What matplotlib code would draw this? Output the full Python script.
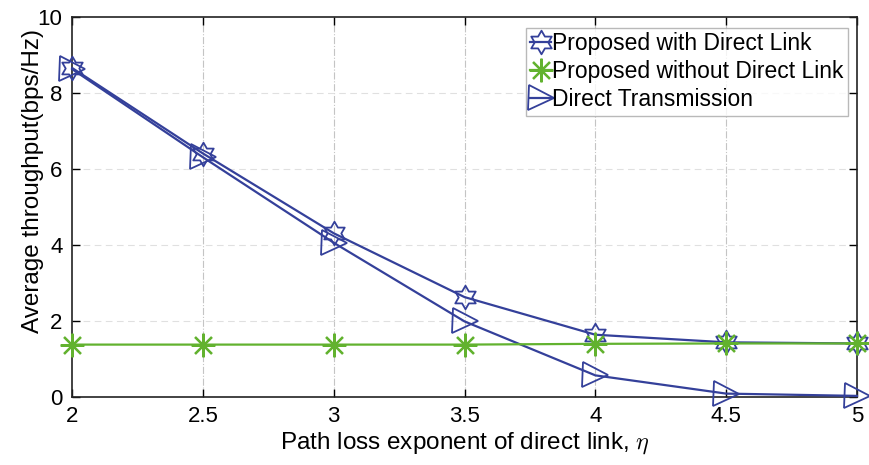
import numpy as np
import matplotlib
matplotlib.use("Agg")
import matplotlib.pyplot as plt
from matplotlib.path import Path

plt.rcParams['font.family'] = ['Liberation Sans', 'DejaVu Sans']
plt.rcParams['mathtext.fontset'] = 'cm'

eta = [2, 2.5, 3, 3.5, 4, 4.5, 5]
with_direct = [8.65, 6.40, 4.30, 2.62, 1.63, 1.43, 1.40]
without_direct = [1.37, 1.37, 1.37, 1.37, 1.39, 1.40, 1.40]
direct_tx = [8.62, 6.30, 4.05, 1.98, 0.56, 0.08, 0.02]

xticks = [2, 2.5, 3, 3.5, 4, 4.5, 5]
xticklabels = ['2', '2.5', '3', '3.5', '4', '4.5', '5']
yticks = [0, 2, 4, 6, 8, 10]

# six-pointed star (hexagram) marker
ang = np.deg2rad(90 + 30 * np.arange(12))
rad = np.where(np.arange(12) % 2 == 0, 1.0, 1 / np.sqrt(3))
verts = np.column_stack([rad * np.cos(ang), rad * np.sin(ang)])
verts = np.vstack([verts, verts[:1]])
hexagram = Path(verts, closed=True)

blue = '#34409A'
green = '#62B22F'

fig = plt.figure(figsize=(8.7, 4.65), dpi=100)
ax = fig.add_axes([0.083, 0.147, 0.902, 0.817])

ax.plot(eta, with_direct, color=blue, lw=1.6, marker=hexagram, ms=17,
        mfc='none', mec=blue, mew=1.3, label='Proposed with Direct Link',
        clip_on=False, zorder=3)
ax.plot(eta, without_direct, color=green, lw=1.6, marker=(8, 2, 0), ms=17,
        mec=green, mew=1.6, label='Proposed without Direct Link',
        clip_on=False, zorder=4)
ax.plot(eta, direct_tx, color=blue, lw=1.6, marker='>', ms=18,
        mfc='none', mec=blue, mew=1.3, label='Direct Transmission',
        clip_on=False, zorder=3)

ax.set_xlim(2, 5)
ax.set_ylim(0, 10)
ax.set_xticks(xticks)
ax.set_xticklabels(xticklabels)
ax.set_yticks(yticks)

for x in xticks[1:-1]:
    ax.axvline(x, color='#c4c4c4', lw=0.8, ls='-.', zorder=0)
for y in yticks[1:-1]:
    ax.axhline(y, color='#e0e0e0', lw=0.8, ls=(0, (6, 4)), zorder=0)

ax.tick_params(direction='in', top=True, right=True, labelsize=16, length=6,
               width=1, pad=7)
for s in ax.spines.values():
    s.set_linewidth(1.2)
    s.set_color('#222222')

ax.set_xlabel(r'Path loss exponent of direct link, $\eta$', fontsize=17.5, labelpad=2)
ax.set_ylabel('Average throughput(bps/Hz)', fontsize=17.5)
ax.yaxis.set_label_coords(-0.036, 0.568)

leg = ax.legend(loc='upper right', bbox_to_anchor=(0.9885, 0.971), fontsize=16.5,
                frameon=True, fancybox=False, edgecolor='#a8a8a8',
                handlelength=0.9, handletextpad=0.05, borderpad=0.2,
                labelspacing=0.22, borderaxespad=0.0)
leg.get_frame().set_linewidth(1.0)
leg.set_zorder(5)

fig.savefig('out.png', dpi=100)
